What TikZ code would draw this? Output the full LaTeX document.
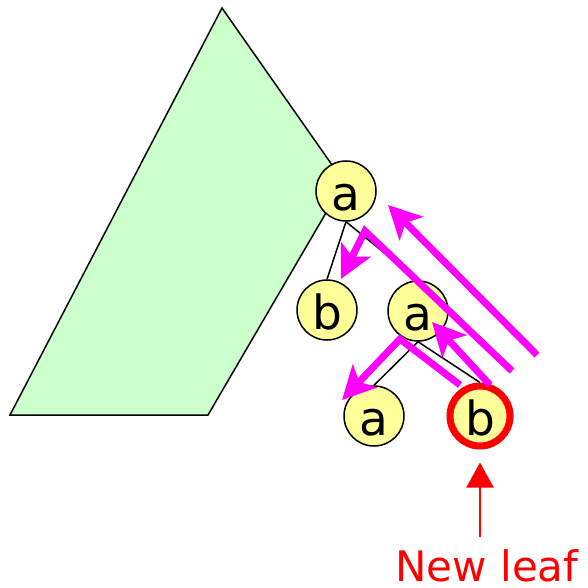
\documentclass[tikz,border=0pt]{standalone}
\usepackage{fontspec}
\setmainfont{DejaVu Sans}
\usetikzlibrary{arrows.meta}
\definecolor{treegreen}{HTML}{CCFFCC}
\definecolor{nodeyellow}{HTML}{FFFF99}
\definecolor{walkpink}{HTML}{FF00FF}

\begin{document}
\begin{tikzpicture}[x=1pt,y=-1pt, every node/.style={font=\fontsize{47}{50}\selectfont},
    tnode/.style={circle, draw=black, line width=1.5pt, fill=nodeyellow, minimum size=60pt,
        inner sep=0pt, text height=38pt, text depth=0pt},
    newnode/.style={tnode, draw=red, line width=7pt},
    treeedge/.style={black, line width=1.5pt},
    walk/.style={walkpink, line width=7pt, -{Stealth[length=33pt,width=33pt,inset=8pt]}},
    leafarrow/.style={red, line width=2pt, -{Triangle[length=25pt,width=27pt]}}]
            \useasboundingbox (0,0) rectangle (588,588);

            % rest of the tree
            \draw[black, line width=1.5pt, fill=treegreen] (10,415) -- (222,8) -- (344,182) -- (208,415) -- cycle;

            \node[tnode] (a1) at (346,191) {a};
            \node[tnode] (b1) at (327,310) {b};
            \node[tnode] (a2) at (418,311) {a};
            \node[tnode] (a3) at (374,416) {a};
            \node[newnode] (b2) at (480,416) {b};

            \draw[treeedge] (a1.south) -- (b1.north);
            \draw[treeedge] (a1.south) -- (a2.north);
            \draw[treeedge] (a2.south) -- (a3.north);
            \draw[treeedge] (a2.south) -- (b2.north);

            % walk back up from the new leaf
            \coordinate (w1s) at (537,355);  \coordinate (w1e) at (388,205);
            \coordinate (w2s) at (512,371);  \coordinate (w2c) at (365,231);  \coordinate (w2e) at (341,279);
            \coordinate (w3s) at (490,385);  \coordinate (w3e) at (432,322);
            \coordinate (w4s) at (460,385);  \coordinate (w4c) at (400,339);  \coordinate (w4e) at (342,400);
            \draw[walk] (w1s) -- (w1e);
            \draw[walk] (w2s) -- (w2c) -- (w2e);
            \draw[walk] (w3s) -- (w3e);
            \draw[walk] (w4s) -- (w4c) -- (w4e);

            \node[red, font=\fontsize{42}{46}\selectfont, inner sep=0pt, anchor=base] (leaf) at (487,581) {New leaf};
            \draw[leafarrow] ([yshift=12pt]leaf.north -| b2.south) -- ([yshift=-13pt]b2.south);
        \end{tikzpicture}
\end{document}
